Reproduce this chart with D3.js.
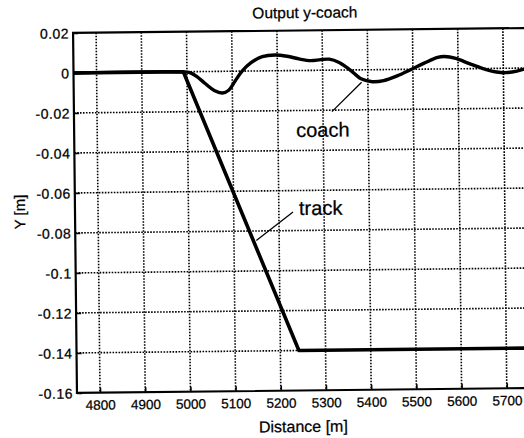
<!DOCTYPE html>
<html>
<head>
<meta charset="utf-8">
<script src="https://cdn.jsdelivr.net/npm/d3@7"></script>
<style>
  body { margin: 0; background: #fff; }
  svg { display: block; font-family: "Liberation Sans", Arial, sans-serif; }
  text { fill: #000; stroke: #000; stroke-width: 0.25px; }
</style>
</head>
<body>
<div id="chart"></div>
<script>
// values
const xDomain = [4749, 5780];
const yDomain = [-0.16, 0.02];
const xTicks = [4800, 4900, 5000, 5100, 5200, 5300, 5400, 5500, 5600, 5700];
const yTicks = [0.02, 0, -0.02, -0.04, -0.06, -0.08, -0.1, -0.12, -0.14, -0.16];
const yTickLabels = ["0.02", "0", "-0.02", "-0.04", "-0.06", "-0.08", "-0.1", "-0.12", "-0.14", "-0.16"];

const trackDist = [4749, 4992, 5241, 5780];
const trackY = [0, 0, -0.14, -0.14];

const coachDist = [4749, 4990, 5005, 5022, 5040, 5060, 5078, 5092, 5106, 5122, 5142, 5167, 5195, 5222,
  5250, 5274, 5296, 5315, 5337, 5360, 5385, 5410, 5435, 5465, 5495, 5525, 5555, 5570, 5595, 5625,
  5655, 5685, 5705, 5730, 5755, 5780];
const coachY = [0, 0, -0.0004, -0.0025, -0.006, -0.0095, -0.0108, -0.0095, -0.005, 0, 0.0042, 0.0071,
  0.0079, 0.0072, 0.0057, 0.0049, 0.0053, 0.0055, 0.0038, 0.0002, -0.0045, -0.006, -0.0055, -0.0032,
  -0.0002, 0.003, 0.0058, 0.0062, 0.0052, 0.0025, 0, -0.0018, -0.0022, -0.0015, 0, 0.001];

const title = "Output y-coach";
const xLabel = "Distance [m]";
const yLabel = "Y [m]";

const W = 524, H = 438;
const plotL = 75, plotR = 541, plotT = 30.5, plotB = 390.5;

const svg = d3.select("#chart").append("svg")
    .attr("width", W)
    .attr("height", H);

// the scan is tilted a little, so the whole figure is turned to match
const g = svg.append("g").attr("transform", "rotate(-0.62, 300, 210)");

const x = d3.scaleLinear().domain(xDomain).range([plotL, plotR]);
const y = d3.scaleLinear().domain(yDomain).range([plotB, plotT]);

// dotted grid
g.append("g")
    .selectAll("line")
    .data(xTicks)
    .join("line")
    .attr("x1", d => x(d)).attr("x2", d => x(d))
    .attr("y1", plotT).attr("y2", plotB)
    .attr("stroke", "#000")
    .attr("stroke-width", 1.6)
    .attr("stroke-dasharray", "1.6,1.4");

g.append("g")
    .selectAll("line")
    .data(yTicks.slice(1, -1))
    .join("line")
    .attr("x1", plotL).attr("x2", plotR)
    .attr("y1", d => y(d)).attr("y2", d => y(d))
    .attr("stroke", "#000")
    .attr("stroke-width", 1.6)
    .attr("stroke-dasharray", "1.6,1.4");

// axes with inward ticks
const xAxis = g.append("g")
    .attr("transform", `translate(0,${plotB})`)
    .call(d3.axisBottom(x).tickValues(xTicks).tickSize(-5).tickPadding(0).tickFormat(d3.format("d")));
xAxis.select(".domain").remove();
xAxis.selectAll(".tick line").attr("stroke-width", 1.6);
xAxis.selectAll(".tick text")
    .attr("y", 17).attr("dy", 0)
    .attr("font-size", 13.5)
    .attr("font-family", "Liberation Sans, Arial, sans-serif");

const yAxis = g.append("g")
    .attr("transform", `translate(${plotL},0)`)
    .call(d3.axisLeft(y).tickValues(yTicks).tickSize(-5).tickPadding(0)
        .tickFormat((d, i) => yTickLabels[i]));
yAxis.select(".domain").remove();
yAxis.selectAll(".tick line").attr("stroke-width", 1.6);
yAxis.selectAll(".tick text")
    .attr("x", -4).attr("dy", "0.36em")
    .attr("font-size", 14)
    .attr("letter-spacing", 0.5)
    .attr("font-family", "Liberation Sans, Arial, sans-serif");

// plot frame (the right side runs past the edge)
g.append("path")
    .attr("d", `M${plotR},${plotT}H${plotL}V${plotB}H${plotR}`)
    .attr("fill", "none")
    .attr("stroke", "#000")
    .attr("stroke-width", 2.2);

const line = d3.line()
    .x(d => x(d[0]))
    .y(d => y(d[1]));

g.append("path")
    .datum(trackDist.map((d, i) => [d, trackY[i]]))
    .attr("d", line)
    .attr("fill", "none")
    .attr("stroke", "#000")
    .attr("stroke-width", 3.6)
    .attr("stroke-linejoin", "round");

g.append("path")
    .datum(coachDist.map((d, i) => [d, coachY[i]]))
    .attr("d", line.curve(d3.curveCatmullRom.alpha(0.5)))
    .attr("fill", "none")
    .attr("stroke", "#000")
    .attr("stroke-width", 3.4)
    .attr("stroke-linejoin", "round");

// labels with pointer lines
g.append("line")
    .attr("x1", 333).attr("y1", 112).attr("x2", 363).attr("y2", 83)
    .attr("stroke", "#000").attr("stroke-width", 1.3);
g.append("text")
    .attr("x", 297).attr("y", 137)
    .attr("font-size", 20)
    .text("coach");

g.append("line")
    .attr("x1", 293).attr("y1", 212).attr("x2", 256).attr("y2", 240)
    .attr("stroke", "#000").attr("stroke-width", 1.3);
g.append("text")
    .attr("x", 299).attr("y", 215)
    .attr("font-size", 20)
    .text("track");

// titles
g.append("text")
    .attr("x", 307).attr("y", 18)
    .attr("text-anchor", "middle")
    .attr("font-size", 15.5)
    .text(title);

g.append("text")
    .attr("x", 301).attr("y", 432)
    .attr("text-anchor", "middle")
    .attr("font-size", 16)
    .text(xLabel);

g.append("text")
    .attr("transform", "translate(25,209) rotate(-90)")
    .attr("text-anchor", "middle")
    .attr("font-size", 15)
    .text(yLabel);
</script>
</body>
</html>
